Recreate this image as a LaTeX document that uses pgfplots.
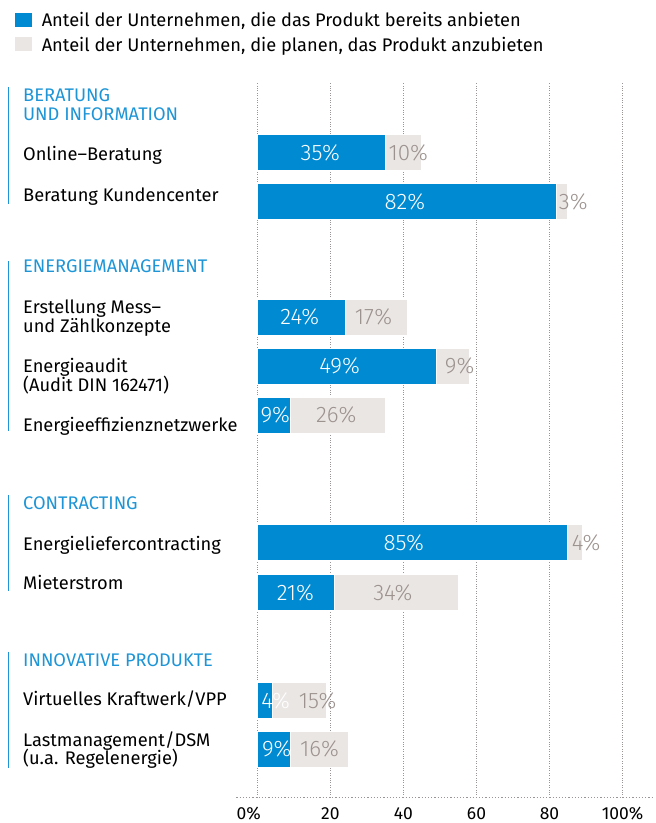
\documentclass[border=0pt]{standalone}
\usepackage{fontspec}
\setmainfont{Fira Sans}
\newfontfamily\lightf{Fira Sans Light}
\usepackage{pgfplots}
\pgfplotsset{compat=1.18}

\definecolor{barblue}{HTML}{008AD2}
\definecolor{bargray}{HTML}{EAE6E4}
\definecolor{valgray}{HTML}{9C928E}
\definecolor{headblue}{HTML}{1E95D6}
\definecolor{gridgray}{HTML}{9A9595}

% 1pt in the picture = 1px of the reference; y = -pixel row
\pgfplotsset{
  base/.style={scale only axis, width=366pt, height=716pt,
    xmin=0, xmax=100, ymin=-799, ymax=-83, clip=false,
    axis line style={draw=none}, ytick=\empty, major tick length=0pt},
}
\newcommand\lab{\fontsize{18.3}{22}\selectfont}
\newcommand\val{\lightf\fontsize{22.5}{24}\selectfont}

\begin{document}
\begin{tikzpicture}
% ---- bars, grid, ticks, legend ----
\begin{axis}[base,
  xbar stacked, bar width=36,
  xtick={0,20,40,60,80,100}, xticklabels={,20,40,60,80,100\%},
  xmajorgrids, grid style={gridgray, dotted, line width=1.2pt},
  xticklabel style={anchor=base, yshift=-22pt, font=\fontsize{17.5}{20}\selectfont},
  legend style={at={(-0.667,1.1)}, anchor=north west, draw=none, fill=none,
    inner sep=0pt, font=\lab, row sep=8.5pt, column sep=9pt, nodes={inner sep=0pt}},
  legend cell align=left,
  legend image code/.code={\fill[#1] (0pt,-7pt) rectangle (18pt,8pt);},
]
\addplot[fill=barblue, draw=white, line width=0.8pt] coordinates {
  (35,-153) (82,-202) (24,-318) (49,-367) (9,-416)
  (85,-544) (21,-594) (4,-702) (9,-751)};
\addlegendentry{Anteil der Unternehmen, die das Produkt bereits anbieten}
\addplot[fill=bargray, draw=white, line width=0.8pt] coordinates {
  (10,-153) (3,-202) (17,-318) (9,-367) (26,-416)
  (4,-544) (34,-594) (15,-702) (16,-751)};
\addlegendentry{Anteil der Unternehmen, die planen, das Produkt anzubieten}
\end{axis}
% ---- value labels, category labels ----
\begin{axis}[base, xtick=\empty]
\addplot[only marks, mark=none, point meta=explicit symbolic,
  nodes near coords={\pgfplotspointmeta\%},
  every node near coord/.append style={anchor=center, text=white, font=\val}]
  table[meta=v] {
x     y     v
17.2  -153  35
40.4  -202  82
11.6  -318  24
22.5  -367  49
4.9   -416  9
40.1  -544  85
10.4  -594  21
5.0   -702  4
5.3   -751  9
};
\addplot[only marks, mark=none, point meta=explicit symbolic,
  nodes near coords={\pgfplotspointmeta\%},
  every node near coord/.append style={anchor=center, text=valgray, font=\val}]
  table[meta=v] {
x     y     v
41.3  -153  10
86.5  -202  3
31.8  -318  17
55.4  -367  9
21.6  -416  26
90.0  -544  4
37.1  -594  34
16.5  -702  15
17.0  -751  16
};
% section markers
\draw[headblue, line width=1.5pt] (axis cs:-68.1,-87) -- (axis cs:-68.1,-204);
\draw[headblue, line width=1.5pt] (axis cs:-68.1,-262) -- (axis cs:-68.1,-432);
\draw[headblue, line width=1.5pt] (axis cs:-68.1,-496) -- (axis cs:-68.1,-592);
\draw[headblue, line width=1.5pt] (axis cs:-68.1,-653) -- (axis cs:-68.1,-770);
\begin{scope}[every node/.style={anchor=base west, inner sep=0pt, font=\lab}]
\node[text=headblue] at (axis cs:-64.2,-102) {BERATUNG};
\node[text=headblue] at (axis cs:-64.2,-121) {UND INFORMATION};
\node at (axis cs:-64.2,-161) {Online–Beratung};
\node at (axis cs:-64.2,-202) {Beratung Kundencenter};
\node[text=headblue] at (axis cs:-64.2,-273) {ENERGIEMANAGEMENT};
\node at (axis cs:-64.2,-314) {Erstellung Mess–};
\node at (axis cs:-64.2,-333) {und Zählkonzepte};
\node at (axis cs:-64.2,-373) {Energieaudit};
\node at (axis cs:-64.2,-392) {(Audit DIN 162471)};
\node at (axis cs:-64.2,-432) {Energieeffizienznetzwerke};
\node[text=headblue] at (axis cs:-64.2,-511) {CONTRACTING};
\node at (axis cs:-64.2,-552) {Energieliefercontracting};
\node at (axis cs:-64.2,-591) {Mieterstrom};
\node[text=headblue] at (axis cs:-64.2,-668) {INNOVATIVE PRODUKTE};
\node at (axis cs:-64.2,-707) {Virtuelles Kraftwerk/VPP};
\node at (axis cs:-64.2,-748) {Lastmanagement/DSM};
\node at (axis cs:-64.2,-766) {(u.a. Regelenergie)};
\node[font=\fontsize{17.5}{20}\selectfont] at (axis cs:-5.74,-821) {0\%};
\end{scope}
\draw[gridgray, dotted, line width=1.2pt] (axis cs:-5.74,-799) -- (axis cs:108.74,-799);
\path (axis cs:-70.49,0) rectangle (axis cs:108.74,-823);
\end{axis}
\end{tikzpicture}
\end{document}
